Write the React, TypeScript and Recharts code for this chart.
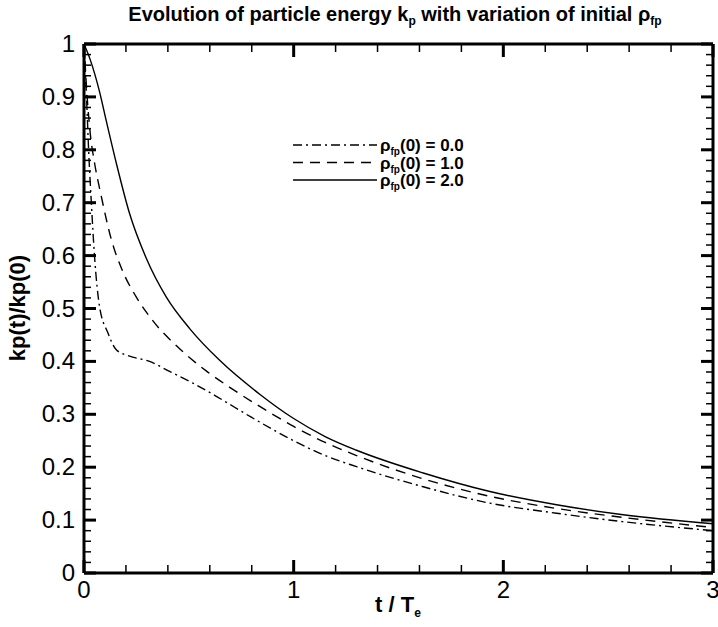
import React from 'react';
import { LineChart, Line, XAxis, YAxis, Legend } from 'recharts';

// t / T_e and kp(t)/kp(0), one pair of arrays per curve
const T_RHO0 = [0, 0.012, 0.022, 0.035, 0.05, 0.074, 0.114, 0.154, 0.217, 0.313, 0.408, 0.519, 0.631, 0.8, 1.0, 1.15, 1.3, 1.618, 1.936, 2.254, 2.572, 3];
const K_RHO0 = [1, 0.9, 0.8, 0.7, 0.6, 0.504, 0.454, 0.422, 0.41, 0.4, 0.381, 0.359, 0.334, 0.294, 0.25, 0.222, 0.201, 0.163, 0.132, 0.113, 0.097, 0.08];

const T_RHO1 = [0, 0.015, 0.03, 0.05, 0.082, 0.13, 0.185, 0.249, 0.328, 0.456, 0.583, 0.695, 0.85, 1.0, 1.15, 1.3, 1.618, 1.936, 2.254, 2.572, 3];
const K_RHO1 = [1, 0.9, 0.83, 0.776, 0.713, 0.631, 0.57, 0.522, 0.477, 0.424, 0.382, 0.351, 0.312, 0.277, 0.247, 0.222, 0.178, 0.145, 0.122, 0.105, 0.086];

const T_RHO2 = [0, 0.03, 0.074, 0.106, 0.154, 0.217, 0.297, 0.392, 0.504, 0.647, 0.838, 1.0, 1.15, 1.3, 1.618, 1.936, 2.254, 2.572, 3];
const K_RHO2 = [1, 0.97, 0.91, 0.855, 0.775, 0.68, 0.595, 0.522, 0.462, 0.402, 0.338, 0.292, 0.258, 0.232, 0.189, 0.154, 0.129, 0.11, 0.093];

const SERIES_LABELS = ['0.0', '1.0', '2.0'];

const X_MAJOR = [0, 1, 2, 3];
const Y_MAJOR = [0, 0.1, 0.2, 0.3, 0.4, 0.5, 0.6, 0.7, 0.8, 0.9, 1];
const Y_MAJOR_LABELS = ['0', '0.1', '0.2', '0.3', '0.4', '0.5', '0.6', '0.7', '0.8', '0.9', '1'];

// minor ticks: 0.2 on x, 0.02 on y
const X_TICKS = Array.from({ length: 16 }, (_, i) => Math.round(i * 20) / 100);
const Y_TICKS = Array.from({ length: 51 }, (_, i) => Math.round(i * 2) / 100);

const toRows = (ts: number[], ks: number[]) => ts.map((t, i) => ({ t, k: ks[i] }));

const FONT = '"Liberation Sans", Arial, Helvetica, sans-serif';

const isMajor = (v: number, majors: number[]) => majors.some((m) => Math.abs(m - v) < 1e-6);

const BottomTick = (props: any) => {
  const { x, y, payload } = props;
  const major = isMajor(payload.value, X_MAJOR);
  return (
    <g>
      <line x1={x} x2={x} y1={y} y2={y - (major ? 13 : 8)} stroke="#000" strokeWidth={major ? 3 : 1.5} />
      {major && (
        <text x={x} y={y + 25} textAnchor="middle" fontSize={24} fontFamily={FONT} fill="#000">
          {String(Math.round(payload.value))}
        </text>
      )}
    </g>
  );
};

const TopTick = (props: any) => {
  const { x, y, payload } = props;
  const major = isMajor(payload.value, X_MAJOR);
  return <line x1={x} x2={x} y1={y} y2={y + (major ? 13 : 8)} stroke="#000" strokeWidth={major ? 3 : 1.5} />;
};

const LeftTick = (props: any) => {
  const { x, y, payload } = props;
  const idx = Y_MAJOR.findIndex((m) => Math.abs(m - payload.value) < 1e-6);
  const major = idx >= 0;
  return (
    <g>
      <line x1={x} x2={x + (major ? 12 : 7)} y1={y} y2={y} stroke="#000" strokeWidth={major ? 3 : 1.5} />
      {major && (
        <text x={x - 9} y={y + 8} textAnchor="end" fontSize={24} fontFamily={FONT} fill="#000">
          {Y_MAJOR_LABELS[idx]}
        </text>
      )}
    </g>
  );
};

const RightTick = (props: any) => {
  const { x, y, payload } = props;
  const major = isMajor(payload.value, Y_MAJOR);
  return <line x1={x} x2={x - (major ? 12 : 7)} y1={y} y2={y} stroke="#000" strokeWidth={major ? 3 : 1.5} />;
};

const DASHES = ['9 4 2 4', '10 7', undefined];

const LegendBox = () => (
  <svg width={240} height={60} style={{ overflow: 'visible' }}>
    {SERIES_LABELS.map((lab, i) => {
      const y = 10 + i * 17.5;
      return (
        <g key={lab}>
          <line x1={0} x2={84} y1={y} y2={y} stroke="#000" strokeWidth={1.3} strokeDasharray={DASHES[i]} />
          <text x={87} y={y + 6} fontSize={17} fontWeight="bold" fontFamily={FONT} fill="#000">
            ρ<tspan fontSize={10} dy={4}>fp</tspan>
            <tspan dy={-4}>(0) = {lab}</tspan>
          </text>
        </g>
      );
    })}
  </svg>
);

export default function App() {
  return (
    <div style={{ position: 'absolute', left: 0, top: 0, width: 718, height: 627, background: '#fff' }}>
      <LineChart width={718} height={627} margin={{ top: 40, right: 0, bottom: 0, left: 24 }}>
        <XAxis
          xAxisId="b"
          dataKey="t"
          type="number"
          domain={[0, 3]}
          ticks={X_TICKS}
          interval={0}
          height={54}
          tickSize={0}
          tickMargin={0}
          axisLine={{ stroke: '#000', strokeWidth: 3 }}
          tick={<BottomTick />}
          allowDataOverflow
        />
        <XAxis
          xAxisId="t"
          orientation="top"
          dataKey="t"
          type="number"
          domain={[0, 3]}
          ticks={X_TICKS}
          interval={0}
          height={4}
          tickSize={0}
          tickMargin={0}
          axisLine={{ stroke: '#000', strokeWidth: 3 }}
          tick={<TopTick />}
          allowDataOverflow
        />
        <YAxis
          yAxisId="l"
          type="number"
          domain={[0, 1]}
          ticks={Y_TICKS}
          interval={0}
          width={60}
          tickSize={0}
          tickMargin={0}
          axisLine={{ stroke: '#000', strokeWidth: 3 }}
          tick={<LeftTick />}
          allowDataOverflow
        />
        <YAxis
          yAxisId="r"
          orientation="right"
          type="number"
          domain={[0, 1]}
          ticks={Y_TICKS}
          interval={0}
          width={5}
          tickSize={0}
          tickMargin={0}
          axisLine={{ stroke: '#000', strokeWidth: 3 }}
          tick={<RightTick />}
          allowDataOverflow
        />
        <Line xAxisId="b" yAxisId="l" data={toRows(T_RHO0, K_RHO0)} dataKey="k" type="monotone" stroke="#000" strokeWidth={1.4} strokeDasharray={DASHES[0]} dot={false} isAnimationActive={false} />
        <Line xAxisId="b" yAxisId="l" data={toRows(T_RHO1, K_RHO1)} dataKey="k" type="monotone" stroke="#000" strokeWidth={1.4} strokeDasharray={DASHES[1]} dot={false} isAnimationActive={false} />
        <Line xAxisId="b" yAxisId="l" data={toRows(T_RHO2, K_RHO2)} dataKey="k" type="monotone" stroke="#000" strokeWidth={1.4} dot={false} isAnimationActive={false} />
        <Line xAxisId="t" yAxisId="r" data={toRows(T_RHO2, K_RHO2)} dataKey="k" stroke="none" dot={false} isAnimationActive={false} legendType="none" />
        <Legend
          layout="vertical"
          align="center"
          verticalAlign="middle"
          content={<LegendBox />}
          wrapperStyle={{ left: 293, top: 135, width: 240, height: 60 }}
        />
      </LineChart>
      <svg width={718} height={627} style={{ position: 'absolute', left: 0, top: 0, pointerEvents: 'none' }}>
        <text x={395} y={21} textAnchor="middle" fontSize={20} fontWeight="bold" fontFamily={FONT} fill="#000">
          Evolution of particle energy k<tspan fontSize={12} dy={4}>p</tspan>
          <tspan dy={-4}> with variation of initial ρ</tspan>
          <tspan fontSize={12} dy={4}>fp</tspan>
        </text>
        <text
          x={0}
          y={0}
          transform="translate(25,308) rotate(-90)"
          textAnchor="middle"
          fontSize={22}
          fontWeight="bold"
          fontFamily={FONT}
          fill="#000"
        >
          kp(t)/kp(0)
        </text>
        <text x={398} y={612} textAnchor="middle" fontSize={22} fontWeight="bold" fontFamily={FONT} fill="#000">
          t / T<tspan fontSize={12} dy={5}>e</tspan>
        </text>
      </svg>
    </div>
  );
}
